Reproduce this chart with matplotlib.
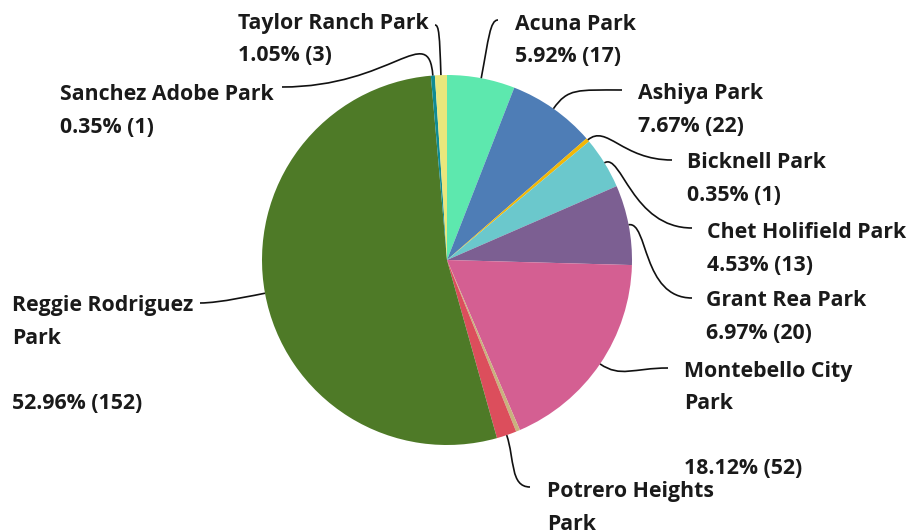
import matplotlib.pyplot as plt
import numpy as np
from matplotlib.path import Path
from matplotlib.patches import PathPatch

# Datos
parks = ['Acuna Park', 'Ashiya Park', 'Bicknell Park', 'Chet Holifield Park',
         'Grant Rea Park', 'Montebello City Park', 'Unlabeled Park',
         'Potrero Heights Park', 'Reggie Rodriguez Park', 'Sanchez Adobe Park',
         'Taylor Ranch Park']
counts = [17, 22, 1, 13, 20, 52, 1, 5, 152, 1, 3]
colors = ['#5de8ae', '#4e7db6', '#f2b705', '#6bc8cc', '#7c5f92', '#d45f92',
          '#c9b27e', '#dc4e5c', '#4e7a27', '#0f8b93', '#e9e77c']

W, H = 914, 531
total = sum(counts)

fig = plt.figure(figsize=(W / 100, H / 100), dpi=100)
ax = fig.add_axes([0, 0, 1, 1])
ax.set_xlim(0, W)
ax.set_ylim(0, H)
ax.set_aspect('equal')
ax.axis('off')

cx, cy, r = 447, H - 260, 185
wedges, _ = ax.pie(counts, colors=colors, startangle=90, counterclock=False,
                   center=(cx, cy), radius=r, wedgeprops=dict(linewidth=0))
ax.set_xlim(0, W)
ax.set_ylim(0, H)

# Posicion de etiquetas: (texto x, y primera linea, fin linea x, fin y, L1, L2, lineas del nombre, hueco)
layout = {
    'Acuna Park': (515, 24, 498, 20, 40, 8, ['Acuna Park'], False),
    'Ashiya Park': (638, 94, 622, 90, 25, 45, ['Ashiya Park'], False),
    'Bicknell Park': (687, 163, 672, 160, 25, 50, ['Bicknell Park'], False),
    'Chet Holifield Park': (707, 233, 692, 228, 20, 60, ['Chet Holifield Park'], False),
    'Grant Rea Park': (706, 301, 692, 298, 20, 50, ['Grant Rea Park'], False),
    'Montebello City Park': (684, 371, 668, 368, 25, 35, ['Montebello City', 'Park'], True),
    'Potrero Heights Park': (547, 492, 530, 487, 25, 20, ['Potrero Heights', 'Park'], True),
    'Reggie Rodriguez Park': (12, 306, 200, 303, 10, 20, ['Reggie Rodriguez', 'Park'], True),
    'Sanchez Adobe Park': (60, 95, 282, 87, 55, 110, ['Sanchez Adobe Park'], False),
    'Taylor Ranch Park': (238, 23, 435, 25, 40, 4, ['Taylor Ranch Park'], False),
}

font = dict(family=['Open Sans', 'DejaVu Sans'], fontweight='bold', fontsize=15.3, color='#1a1a1a')
pitch = 32.5

for w, name, n in zip(wedges, parks, counts):
    if name not in layout:
        continue
    tx, ty, ex, ey, L1, L2, lines, gap = layout[name]
    ang = np.deg2rad((w.theta1 + w.theta2) / 2)
    p0 = np.array([cx + r * np.cos(ang), cy + r * np.sin(ang)])
    p1 = p0 + L1 * np.array([np.cos(ang), np.sin(ang)])
    side = 1 if ex > cx else -1
    p3 = np.array([ex, H - ey])
    p2 = p3 - np.array([side * L2, 0])
    path = Path([p0, p1, p2, p3], [Path.MOVETO, Path.CURVE4, Path.CURVE4, Path.CURVE4])
    ax.add_patch(PathPatch(path, facecolor='none', edgecolor='#111111', lw=1.2))

    txt = lines + ([''] if gap else []) + [f'{n / total * 100:.2f}% ({n})']
    for i, t in enumerate(txt):
        ax.text(tx, H - (ty + i * pitch), t, ha='left', va='center', **font)

plt.savefig('out.png', dpi=100)
